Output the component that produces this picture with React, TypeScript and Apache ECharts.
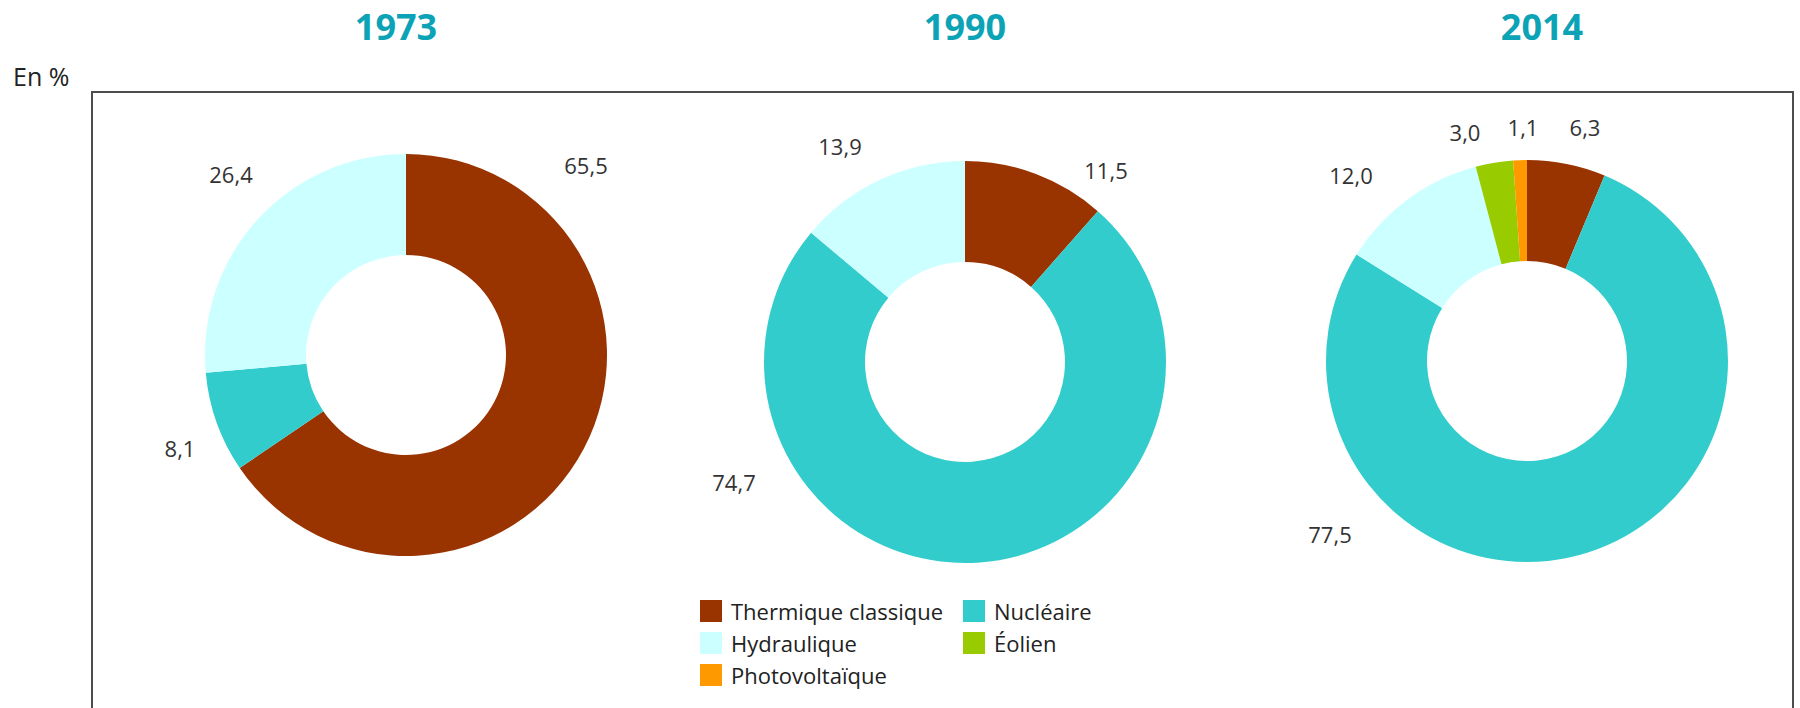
import React, { useEffect, useRef } from "react";
import * as echarts from "echarts";

const YEARS = ["1973", "1990", "2014"];
const CATEGORIES = ["Thermique classique", "Nucléaire", "Hydraulique", "Éolien", "Photovoltaïque"];
const VALUES_1973 = [65.5, 8.1, 26.4];
const VALUES_1990 = [11.5, 74.7, 13.9];
const VALUES_2014 = [6.3, 77.5, 12.0, 3.0, 1.1];
const SERIES_VALUES = [VALUES_1973, VALUES_1990, VALUES_2014];

const COLORS: Record<string, string> = {
  "Thermique classique": "#993300",
  "Nucléaire": "#33CCCC",
  "Hydraulique": "#CCFFFF",
  "Éolien": "#99CC00",
  "Photovoltaïque": "#FF9900",
};

// layout (pixels)
const PIE_CENTERS = [
  [406, 355],
  [965, 362],
  [1527, 361],
];
const TITLE_X = [396, 965, 1542];
const LABEL_OFFSETS = [
  [[180, -190], [-226, 93], [-175, -181]],
  [[141, -192], [-231, 120], [-125, -216]],
  [[58, -234], [-197, 173], [-176, -186], [-62, -229], [-4, -234]],
];

const FONT = "'Open Sans', 'Noto Sans', sans-serif";

export default function App() {
  const ref = useRef<HTMLDivElement>(null);
  useEffect(() => {
    if (!ref.current) return;
    const chart = echarts.init(ref.current, null, { renderer: "svg" });
    const series = SERIES_VALUES.map((vals, si) => ({
      type: "pie",
      name: YEARS[si],
      center: PIE_CENTERS[si],
      radius: [100, 201],
      startAngle: 90,
      clockwise: true,
      silent: true,
      avoidLabelOverlap: false,
      emphasis: { disabled: true, scale: false },
      itemStyle: { borderWidth: 0 },
      label: {
        show: true,
        position: "outside",
        color: "#333333",
        fontFamily: FONT,
        fontSize: 22,
        formatter: (p: any) => Number(p.value).toFixed(1).replace(".", ","),
      },
      labelLine: { show: false },
      labelLayout: (p: any) => {
        const off = LABEL_OFFSETS[si][p.dataIndex];
        return {
          x: PIE_CENTERS[si][0] + off[0],
          y: PIE_CENTERS[si][1] + off[1],
          align: "center",
          verticalAlign: "middle",
        };
      },
      data: vals.map((v, i) => ({
        name: CATEGORIES[i],
        value: v,
        itemStyle: { color: COLORS[CATEGORIES[i]] },
      })),
    }));

    const legendCommon = {
      orient: "vertical",
      top: 600,
      padding: 0,
      itemWidth: 22,
      itemHeight: 22,
      itemGap: 10,
      icon: "rect",
      selectedMode: false,
      textStyle: {
        fontFamily: FONT,
        fontSize: 22,
        color: "#222222",
        padding: [0, 0, 0, 4],
      },
    };

    chart.setOption({
      animation: false,
      backgroundColor: "#ffffff",
      legend: [
        { ...legendCommon, left: 700, data: [CATEGORIES[0], CATEGORIES[2], CATEGORIES[4]] },
        { ...legendCommon, left: 963, data: [CATEGORIES[1], CATEGORIES[3]] },
      ],
      graphic: [
        {
          type: "rect",
          shape: { x: 92, y: 92, width: 1701, height: 700 },
          style: { fill: "none", stroke: "#4d4d4d", lineWidth: 2 },
          silent: true,
        },
        {
          type: "text",
          x: 13,
          y: 76,
          style: {
            text: "En %",
            font: `25px ${FONT}`,
            fill: "#222222",
            align: "left",
            verticalAlign: "middle",
          },
        },
        ...YEARS.map((y, i) => ({
          type: "text",
          x: TITLE_X[i],
          y: 26,
          style: {
            text: y,
            font: `bold 36px ${FONT}`,
            fill: "#0BA3B5",
            align: "center",
            verticalAlign: "middle",
          },
        })),
      ],
      series,
    });
    return () => chart.dispose();
  }, []);
  return (
    <div
      ref={ref}
      style={{ position: "fixed", left: 0, top: 0, width: 1800, height: 708, background: "#fff" }}
    />
  );
}
